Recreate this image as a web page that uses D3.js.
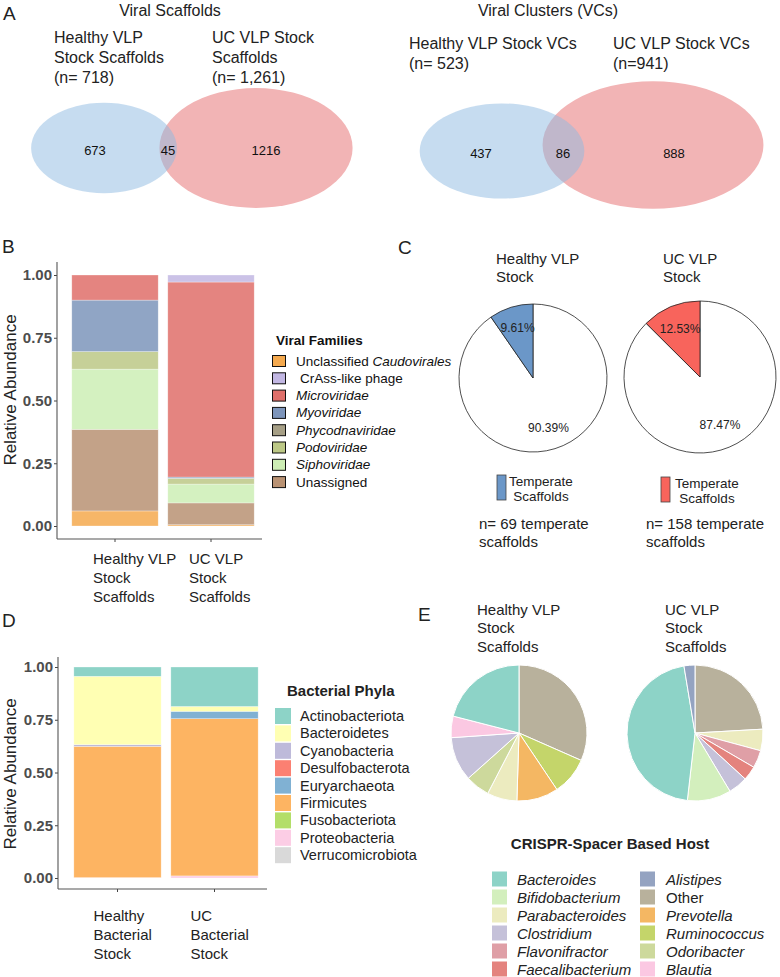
<!DOCTYPE html>
<html>
<head>
<meta charset="utf-8">
<script src="https://cdn.jsdelivr.net/npm/d3@7"></script>
<style>
  body { margin: 0; background: #fff; }
  svg { font-family: "Liberation Sans", Arial, Helvetica, sans-serif; }
</style>
</head>
<body>
<svg id="fig" width="780" height="977"></svg>
<script>
// ---- data ----
var scaffoldTotals = [718, 1261];
var scaffoldCounts = [673, 45, 1216];   // healthy only, shared, UC only
var vcTotals = [523, 941];
var vcCounts = [437, 86, 888];

var viralFamilies = ["Unclassified Caudovirales", "CrAss-like phage", "Microviridae", "Myoviridae",
                     "Phycodnaviridae", "Podoviridae", "Siphoviridae", "Unassigned"];
var viralStackOrder = ["Unclassified Caudovirales", "Unassigned", "Siphoviridae", "Podoviridae",
                       "Phycodnaviridae", "Myoviridae", "Microviridae", "CrAss-like phage"];
var viralSamples = ["Healthy VLP Stock Scaffolds", "UC VLP Stock Scaffolds"];
var healthyViral = [0.060, 0.000, 0.100, 0.205, 0.000, 0.070, 0.240, 0.325];
var ucViral      = [0.005, 0.028, 0.777, 0.005, 0.000, 0.023, 0.075, 0.087];

var temperatePct = [9.61, 12.53];
var temperateN = [69, 158];
var stockNames = ["Healthy VLP Stock", "UC VLP Stock"];

var bacterialPhyla = ["Actinobacteriota", "Bacteroidetes", "Cyanobacteria", "Desulfobacterota",
                      "Euryarchaeota", "Firmicutes", "Fusobacteriota", "Proteobacteria", "Verrucomicrobiota"];
var bacterialSamples = ["Healthy Bacterial Stock", "UC Bacterial Stock"];
var healthyBact = [0.044, 0.324, 0.008, 0.000, 0.000, 0.622, 0.000, 0.002, 0.000];
var ucBact      = [0.187, 0.023, 0.000, 0.000, 0.035, 0.745, 0.000, 0.010, 0.000];

var hostPieOrder = ["Other", "Ruminococcus", "Prevotella", "Parabacteroides", "Odoribacter", "Flavonifractor",
                    "Faecalibacterium", "Clostridium", "Blautia", "Bifidobacterium", "Bacteroides", "Alistipes"];
var healthyHost = [0.316, 0.090, 0.099, 0.071, 0.058, 0.000, 0.000, 0.105, 0.051, 0.000, 0.210, 0.000];
var ucHost      = [0.241, 0.000, 0.000, 0.051, 0.000, 0.042, 0.034, 0.046, 0.000, 0.104, 0.456, 0.026];
var hostLegend = ["Bacteroides", "Bifidobacterium", "Parabacteroides", "Clostridium", "Flavonifractor",
                  "Faecalibacterium", "Alistipes", "Other", "Prevotella", "Ruminococcus", "Odoribacter", "Blautia"];

// ---- colours ----
var viralColor = d3.scaleOrdinal().domain(viralFamilies)
  .range(["#f4a94e", "#c2b7e3", "#df6f6a", "#7d95bb", "#a69f86", "#bcc886", "#cdeeb5", "#b99273"]);
var phylaColor = d3.scaleOrdinal().domain(bacterialPhyla)
  .range(["#8dd3c7", "#ffffb3", "#bebada", "#fb8072", "#80b1d3", "#fdb462", "#b3de69", "#fccde5", "#d9d9d9"]);
var hostColor = d3.scaleOrdinal()
  .domain(["Bacteroides", "Bifidobacterium", "Parabacteroides", "Clostridium", "Flavonifractor", "Faecalibacterium",
           "Alistipes", "Other", "Prevotella", "Ruminococcus", "Odoribacter", "Blautia"])
  .range(["#8dd3c7", "#d3efbd", "#ecebbf", "#c5c1d9", "#df9fa6", "#e4837e",
          "#94a3c1", "#b8b19c", "#f4b763", "#c4d56a", "#cdd99c", "#fbc8e2"]);

var svg = d3.select("#fig");

function lines(g, x, y, arr, size, step, opts) {
  opts = opts || {};
  arr.forEach(function(t, i) {
    g.append("text").attr("x", x).attr("y", y + i * step)
      .attr("dominant-baseline", "central")
      .attr("text-anchor", opts.anchor || "start")
      .attr("font-size", size)
      .attr("font-weight", opts.weight || "normal")
      .attr("fill", opts.fill || "#222")
      .text(t);
  });
}

function panelLetter(t, x, y) {
  svg.append("text").attr("x", x).attr("y", y).attr("font-size", 19).attr("fill", "#222").text(t);
}

// ---- A: venn diagrams ----
function venn(cfg) {
  var g = svg.append("g");
  var rx = d3.scaleSqrt().domain([0, 1]).range([0, cfg.kx]);
  var ry = d3.scaleSqrt().domain([0, 1]).range([0, cfg.ky]);
  g.append("ellipse").attr("cx", cfg.cx[1]).attr("cy", cfg.cy[1])
    .attr("rx", rx(cfg.totals[1])).attr("ry", ry(cfg.totals[1])).attr("fill", "#f2b4b5");
  g.append("ellipse").attr("cx", cfg.cx[0]).attr("cy", cfg.cy[0])
    .attr("rx", rx(cfg.totals[0])).attr("ry", ry(cfg.totals[0]))
    .attr("fill", "rgb(141,185,225)").attr("fill-opacity", 0.5);
  cfg.counts.forEach(function(c, i) {
    g.append("text").attr("x", cfg.nx[i]).attr("y", cfg.ny)
      .attr("text-anchor", "middle").attr("dominant-baseline", "central")
      .attr("font-size", 13).attr("fill", "#111").text(c);
  });
  g.append("text").attr("x", cfg.titleX).attr("y", 10).attr("text-anchor", "middle")
    .attr("dominant-baseline", "central").attr("font-size", 16).attr("fill", "#222").text(cfg.title);
  lines(g, cfg.lx[0], cfg.ly, cfg.labels[0], 16, 20);
  lines(g, cfg.lx[1], cfg.ly, cfg.labels[1], 16, 20);
}

panelLetter("A", 3, 20);
venn({
  totals: scaffoldTotals, counts: scaffoldCounts, kx: 2.72, ky: 1.69,
  cx: [104, 256], cy: [148, 148], nx: [95, 168, 266], ny: 150,
  title: "Viral Scaffolds", titleX: 170,
  lx: [54, 212], ly: 37,
  labels: [["Healthy VLP", "Stock Scaffolds", "(n= " + d3.format(",")(scaffoldTotals[0]) + ")"],
           ["UC VLP Stock", "Scaffolds", "(n= " + d3.format(",")(scaffoldTotals[1]) + ")"]]
});
venn({
  totals: vcTotals, counts: vcCounts, kx: 3.6, ky: 2.08,
  cx: [502, 653], cy: [151, 145], nx: [481, 563, 674], ny: 153,
  title: "Viral Clusters (VCs)", titleX: 548,
  lx: [409, 613], ly: 43,
  labels: [["Healthy VLP Stock VCs", "(n= " + vcTotals[0] + ")"],
           ["UC VLP Stock VCs", "(n=" + vcTotals[1] + ")"]]
});

// ---- stacked bar helper (B and D) ----
function stackedBars(cfg) {
  var g = svg.append("g");
  var y = d3.scaleLinear().domain([0, 1]).range([cfg.y0, cfg.y1]);
  var x = d3.scaleBand().domain(cfg.samples).range(cfg.xr).paddingInner(0.1).paddingOuter(0.05);

  var rows = cfg.samples.map(function(s, i) {
    var o = { sample: s };
    cfg.keys.forEach(function(k, j) { o[k] = cfg.values[i][j]; });
    return o;
  });
  var series = d3.stack().keys(cfg.order)(rows);

  g.selectAll("g.layer").data(series).enter().append("g").attr("class", "layer")
    .attr("fill", function(d) { return cfg.color(d.key); })
    .attr("fill-opacity", cfg.opacity)
    .selectAll("rect").data(function(d) { return d; }).enter().append("rect")
      .attr("x", function(d) { return x(d.data.sample); })
      .attr("width", x.bandwidth())
      .attr("y", function(d) { return y(d[1]); })
      .attr("height", function(d) { return Math.max(0, y(d[0]) - y(d[1])); })
      .attr("stroke", "#fff").attr("stroke-opacity", 0.5).attr("stroke-width", 0.6);

  var yAxis = g.append("g").attr("transform", "translate(" + cfg.axisX + ",0)")
    .call(d3.axisLeft(y).tickValues([0, 0.25, 0.5, 0.75, 1]).tickFormat(d3.format(".2f"))
      .tickSize(3).tickPadding(2));
  yAxis.select(".domain").remove();
  yAxis.selectAll("line").attr("stroke", "#444");
  yAxis.selectAll("text").attr("font-size", 15).attr("font-weight", "bold").attr("fill", "#4d4d4d")
    .attr("font-family", "\"Liberation Sans\", Arial, sans-serif");

  var xAxis = g.append("g").attr("transform", "translate(0," + cfg.axisY + ")")
    .call(d3.axisBottom(x).tickSize(3).tickFormat(""));
  xAxis.select(".domain").remove();
  xAxis.selectAll("line").attr("stroke", "#444");

  g.append("line").attr("x1", cfg.axisX).attr("x2", cfg.axisX).attr("y1", cfg.axisTop).attr("y2", cfg.axisY)
    .attr("stroke", "#555").attr("stroke-width", 1.1);
  g.append("line").attr("x1", cfg.axisX).attr("x2", cfg.axisRight).attr("y1", cfg.axisY).attr("y2", cfg.axisY)
    .attr("stroke", "#555").attr("stroke-width", 1.1);

  cfg.samples.forEach(function(s, i) {
    var cx = x(s) + x.bandwidth() / 2;
    lines(g, cx + cfg.labelShift, cfg.labelY, cfg.labels[i], 15, 19);
  });

  g.append("text").attr("transform", "translate(10," + cfg.titleY + ") rotate(-90)")
    .attr("text-anchor", "middle").attr("dominant-baseline", "central")
    .attr("font-size", 17).attr("fill", "#222").text("Relative Abundance");
}

// ---- B ----
panelLetter("B", 2, 253);
stackedBars({
  samples: viralSamples, keys: viralFamilies, order: viralStackOrder,
  values: [healthyViral, ucViral], color: viralColor, opacity: 0.85,
  y0: 526, y1: 275, xr: [67, 259], axisX: 57, axisY: 539, axisTop: 262, axisRight: 262,
  labelShift: -22, labelY: 558, titleY: 390,
  labels: [["Healthy VLP", "Stock", "Scaffolds"], ["UC VLP", "Stock", "Scaffolds"]]
});

// legend B
(function() {
  var g = svg.append("g");
  g.append("text").attr("x", 276).attr("y", 340).attr("dominant-baseline", "central")
    .attr("font-size", 13.5).attr("font-weight", "bold").attr("fill", "#111").text("Viral Families");
  viralFamilies.forEach(function(f, i) {
    var cy = 361 + i * 17.3;
    g.append("rect").attr("x", 272.5).attr("y", cy - 5.5).attr("width", 13).attr("height", 11)
      .attr("fill", viralColor(f)).attr("stroke", "#111").attr("stroke-width", 1);
    var t = g.append("text").attr("x", f === "CrAss-like phage" ? 300 : 296).attr("y", cy)
      .attr("dominant-baseline", "central").attr("font-size", 13.5).attr("fill", "#111");
    if (f === "Unclassified Caudovirales") {
      t.append("tspan").text("Unclassified ");
      t.append("tspan").attr("font-style", "italic").text("Caudovirales");
    } else if (f === "CrAss-like phage" || f === "Unassigned") {
      t.text(f);
    } else {
      t.attr("font-style", "italic").text(f);
    }
  });
})();

// ---- C: temperate pies ----
panelLetter("C", 398, 254);
(function() {
  var pies = [
    { cx: 533, cy: 378, r: 74, color: "#6b97c8", tx: 496, keyX: 497, keyY: 475, legX: 541, nx: 479 },
    { cx: 700, cy: 377, r: 76, color: "#f8645c", tx: 663, keyX: 661, keyY: 477, legX: 707, nx: 646 }
  ];
  var pie = d3.pie().sort(null).value(function(d) { return d; });
  pies.forEach(function(p, i) {
    var g = svg.append("g");
    lines(g, p.tx, 258, stockNames[i] === "Healthy VLP Stock" ? ["Healthy VLP", "Stock"] : ["UC VLP", "Stock"], 15, 18);
    var vals = [100 - temperatePct[i], temperatePct[i]];
    var arcs = pie(vals);
    var arc = d3.arc().innerRadius(0).outerRadius(p.r);
    var labelArc = d3.arc().innerRadius(52).outerRadius(52);
    var pg = g.append("g").attr("transform", "translate(" + p.cx + "," + p.cy + ")");
    pg.selectAll("path").data(arcs).enter().append("path")
      .attr("d", arc)
      .attr("fill", function(d, j) { return j === 1 ? p.color : "#fff"; })
      .attr("stroke", "#222").attr("stroke-width", 0.8);
    pg.selectAll("text").data(arcs).enter().append("text")
      .attr("transform", function(d) { return "translate(" + labelArc.centroid(d) + ")"; })
      .attr("text-anchor", "middle").attr("dominant-baseline", "central")
      .attr("font-size", 12).attr("fill", "#222")
      .text(function(d) { return d3.format(".2f")(d.value) + "%"; });
    g.append("rect").attr("x", p.keyX).attr("y", p.keyY).attr("width", 9).attr("height", 25)
      .attr("fill", p.color).attr("stroke", "#444").attr("stroke-width", 0.8);
    lines(g, p.legX, p.keyY + 6, ["Temperate", "Scaffolds"], 13.5, 15, { anchor: "middle" });
    lines(g, p.nx, 523, ["n= " + temperateN[i] + " temperate", "scaffolds"], 15, 18);
  });
})();

// ---- D ----
panelLetter("D", 2, 627);
stackedBars({
  samples: bacterialSamples, keys: bacterialPhyla, order: bacterialPhyla.slice().reverse(),
  values: [healthyBact, ucBact], color: phylaColor, opacity: 1,
  y0: 878, y1: 667, xr: [69, 263], axisX: 58, axisY: 889, axisTop: 657, axisRight: 267,
  labelShift: -24, labelY: 915, titleY: 774,
  labels: [["Healthy", "Bacterial", "Stock"], ["UC", "Bacterial", "Stock"]]
});

// legend D
(function() {
  var g = svg.append("g");
  g.append("text").attr("x", 287).attr("y", 690).attr("dominant-baseline", "central")
    .attr("font-size", 15).attr("font-weight", "bold").attr("fill", "#222").text("Bacterial Phyla");
  bacterialPhyla.forEach(function(f, i) {
    var cy = 716 + i * 17.4;
    g.append("rect").attr("x", 275).attr("y", cy - 8).attr("width", 16).attr("height", 16)
      .attr("fill", phylaColor(f));
    g.append("text").attr("x", 300).attr("y", cy).attr("dominant-baseline", "central")
      .attr("font-size", 14.5).attr("fill", "#222").text(f);
  });
})();

// ---- E: host pies ----
panelLetter("E", 418, 621);
(function() {
  var pie = d3.pie().sort(null).value(function(d) { return d.v; });
  var arc = d3.arc().innerRadius(0).outerRadius(68);
  var sets = [
    { cx: 519, cy: 733, vals: healthyHost, tx: 477, title: ["Healthy VLP", "Stock", "Scaffolds"] },
    { cx: 695, cy: 733, vals: ucHost, tx: 665, title: ["UC VLP", "Stock", "Scaffolds"] }
  ];
  sets.forEach(function(s) {
    var g = svg.append("g");
    lines(g, s.tx, 609, s.title, 15, 18.5);
    var data = hostPieOrder.map(function(k, j) { return { k: k, v: s.vals[j] }; })
      .filter(function(d) { return d.v > 0; });
    g.append("g").attr("transform", "translate(" + s.cx + "," + s.cy + ")")
      .selectAll("path").data(pie(data)).enter().append("path")
        .attr("d", arc)
        .attr("fill", function(d) { return hostColor(d.data.k); })
        .attr("stroke", "#fff").attr("stroke-width", 1);
  });

  var g = svg.append("g");
  g.append("text").attr("x", 610).attr("y", 843).attr("text-anchor", "middle").attr("dominant-baseline", "central")
    .attr("font-size", 15).attr("font-weight", "bold").attr("fill", "#222").text("CRISPR-Spacer Based Host");
  hostLegend.forEach(function(h, i) {
    var col = Math.floor(i / 6), row = i % 6;
    var cy = 879 + row * 18;
    var kx = col === 0 ? 492 : 640;
    var tx = col === 0 ? 517 : 666;
    g.append("rect").attr("x", kx).attr("y", cy - 7.5).attr("width", 15).attr("height", 15)
      .attr("fill", hostColor(h));
    g.append("text").attr("x", tx).attr("y", cy).attr("dominant-baseline", "central")
      .attr("font-size", 15).attr("fill", "#222")
      .attr("font-style", h === "Other" ? "normal" : "italic").text(h);
  });
})();
</script>
</body>
</html>
